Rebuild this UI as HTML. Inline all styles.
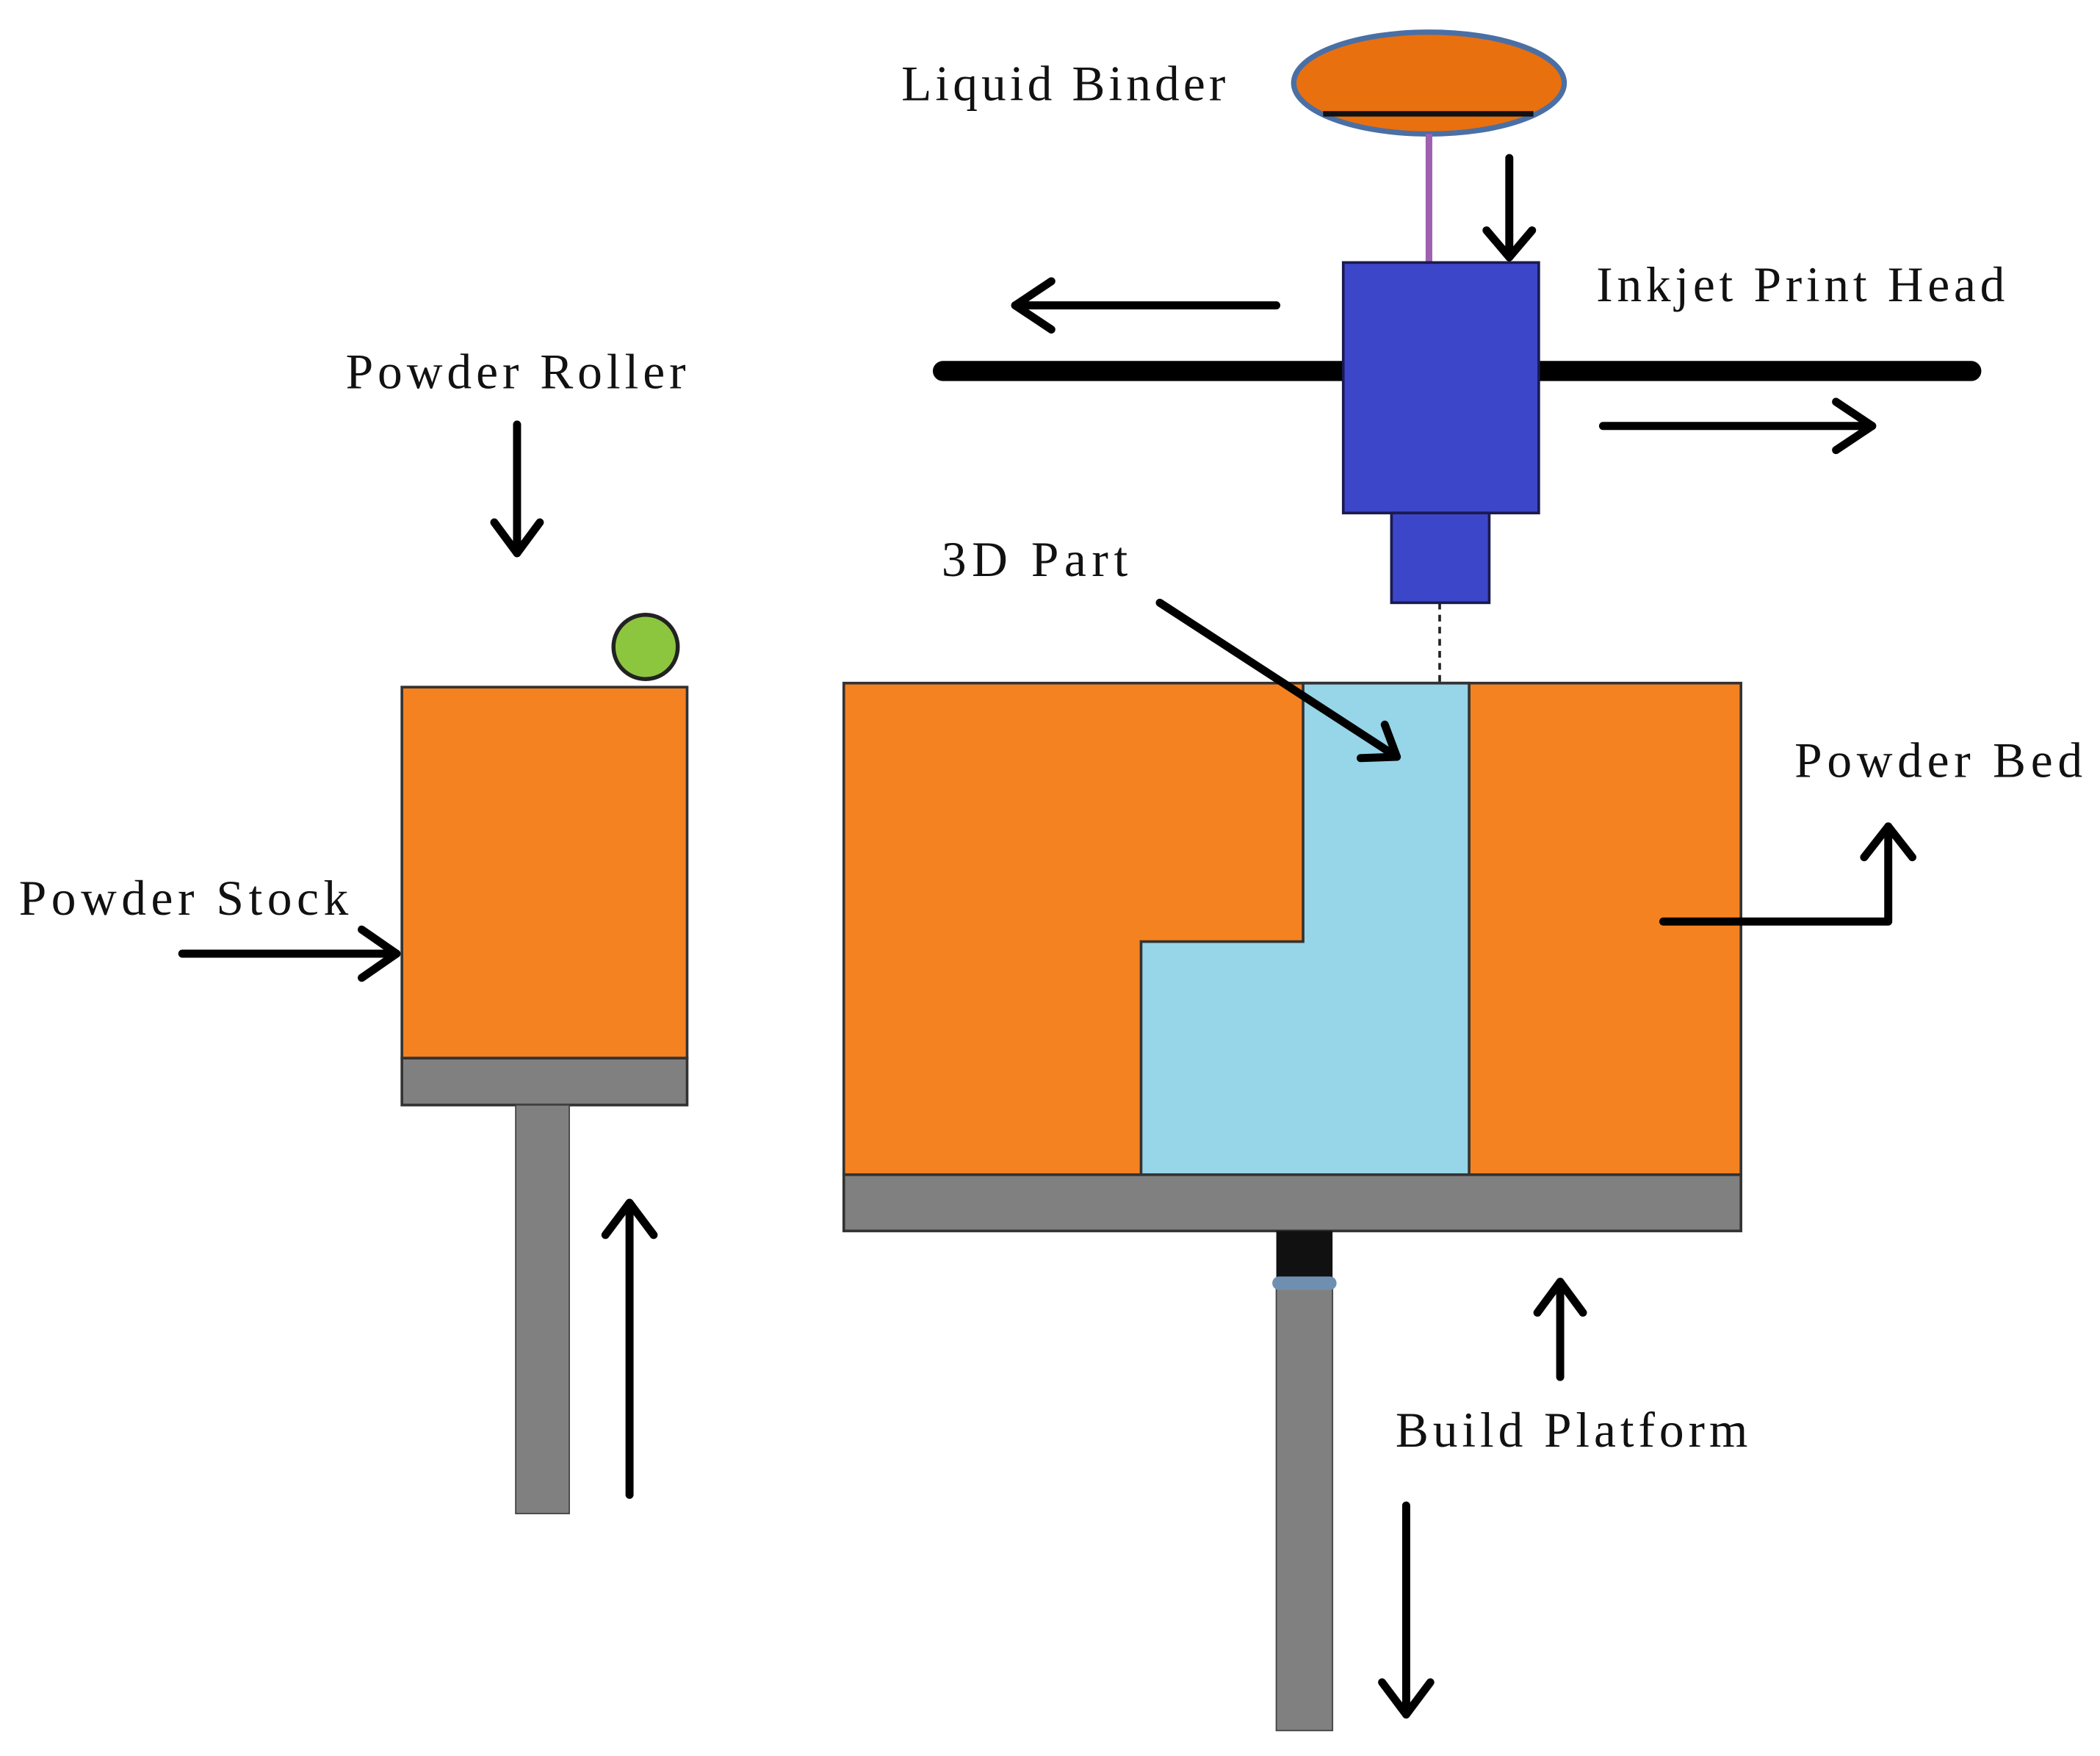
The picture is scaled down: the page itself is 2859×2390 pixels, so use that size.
<!DOCTYPE html>
<html><head><meta charset="utf-8"><style>
html,body{margin:0;padding:0;background:#fff}
svg{display:block}
text{font-family:"Liberation Serif",serif;font-size:37px;fill:#111}
</style></head><body>
<svg width="2859" height="2390" viewBox="0 0 1568 1311" xmlns="http://www.w3.org/2000/svg">
<rect width="1568" height="1311" fill="#fff"/>
<ellipse cx="1067" cy="62" rx="101" ry="38" fill="#e8700f" stroke="#4a6fa5" stroke-width="4"/>
<line x1="988" y1="85" x2="1145" y2="85" stroke="#111" stroke-width="4"/>
<line x1="1067" y1="100" x2="1067" y2="198" stroke="#a060b0" stroke-width="5"/>
<line x1="704" y1="277" x2="1005" y2="277" stroke="#000" stroke-width="15" stroke-linecap="round"/>
<line x1="1147" y1="277" x2="1472" y2="277" stroke="#000" stroke-width="15" stroke-linecap="round"/>
<rect x="1003" y="196" width="146" height="187" fill="#3c46c8" stroke="#1a1a50" stroke-width="2"/>
<rect x="1039" y="383" width="73" height="67" fill="#3c46c8" stroke="#1a1a50" stroke-width="2"/>
<line x1="1075" y1="450" x2="1075" y2="510" stroke="#222" stroke-width="2" stroke-dasharray="5,4"/>
<rect x="630" y="510" width="670" height="367" fill="#f58220" stroke="#333" stroke-width="2"/>
<polygon points="973,510 1097,510 1097,877 852,877 852,703 973,703" fill="#97d5e8" stroke="#333" stroke-width="2"/>
<rect x="630" y="877" width="670" height="42" fill="#808080" stroke="#333" stroke-width="2"/>
<rect x="953" y="919" width="42" height="38" fill="#111"/>
<rect x="953" y="960" width="42" height="332" fill="#808080" stroke="#444" stroke-width="1"/>
<rect x="950" y="953" width="48" height="10" rx="5" fill="#6f8fb0"/>
<rect x="300" y="513" width="213" height="277" fill="#f58220" stroke="#333" stroke-width="2"/>
<rect x="300" y="790" width="213" height="35" fill="#808080" stroke="#333" stroke-width="2"/>
<rect x="385" y="825" width="40" height="305" fill="#808080" stroke="#444" stroke-width="1"/>
<circle cx="482" cy="483" r="24" fill="#8cc63f" stroke="#222" stroke-width="3"/>
<g stroke="#000" stroke-width="6" fill="none" stroke-linecap="round" stroke-linejoin="round">
<line x1="1127" y1="118" x2="1127" y2="192"/><polyline points="1110,172 1127,192 1144,172"/>
<line x1="953" y1="228" x2="758" y2="228"/><polyline points="785,210 758,228 785,246"/>
<line x1="1197" y1="318" x2="1398" y2="318"/><polyline points="1371,300 1398,318 1371,336"/>
<line x1="386" y1="317" x2="386" y2="413"/><polyline points="369,390 386,413 403,390"/>
<line x1="136" y1="712" x2="296" y2="712"/><polyline points="270,694 296,712 270,730"/>
<line x1="470" y1="1116" x2="470" y2="898"/><polyline points="452,922 470,898 488,922"/>
<polyline points="1242,688 1410,688 1410,617"/><polyline points="1392,640 1410,617 1428,640"/>
<line x1="866" y1="450" x2="1043" y2="565"/><polyline points="1016,566 1043,565 1034,541"/>
<line x1="1165" y1="1028" x2="1165" y2="957"/><polyline points="1148,980 1165,957 1182,980"/>
<line x1="1050" y1="1124" x2="1050" y2="1280"/><polyline points="1032,1256 1050,1280 1068,1256"/>
</g>
<text x="673" y="75" textLength="242" lengthAdjust="spacing">Liquid Binder</text>
<text x="1192" y="225" textLength="305" lengthAdjust="spacing">Inkjet Print Head</text>
<text x="258" y="290" textLength="254" lengthAdjust="spacing">Powder Roller</text>
<text x="703" y="430" textLength="139" lengthAdjust="spacing">3D Part</text>
<text x="1340" y="580" textLength="215" lengthAdjust="spacing">Powder Bed</text>
<text x="14" y="683" textLength="246" lengthAdjust="spacing">Powder Stock</text>
<text x="1042" y="1080" textLength="263" lengthAdjust="spacing">Build Platform</text>
</svg>
</body></html>
